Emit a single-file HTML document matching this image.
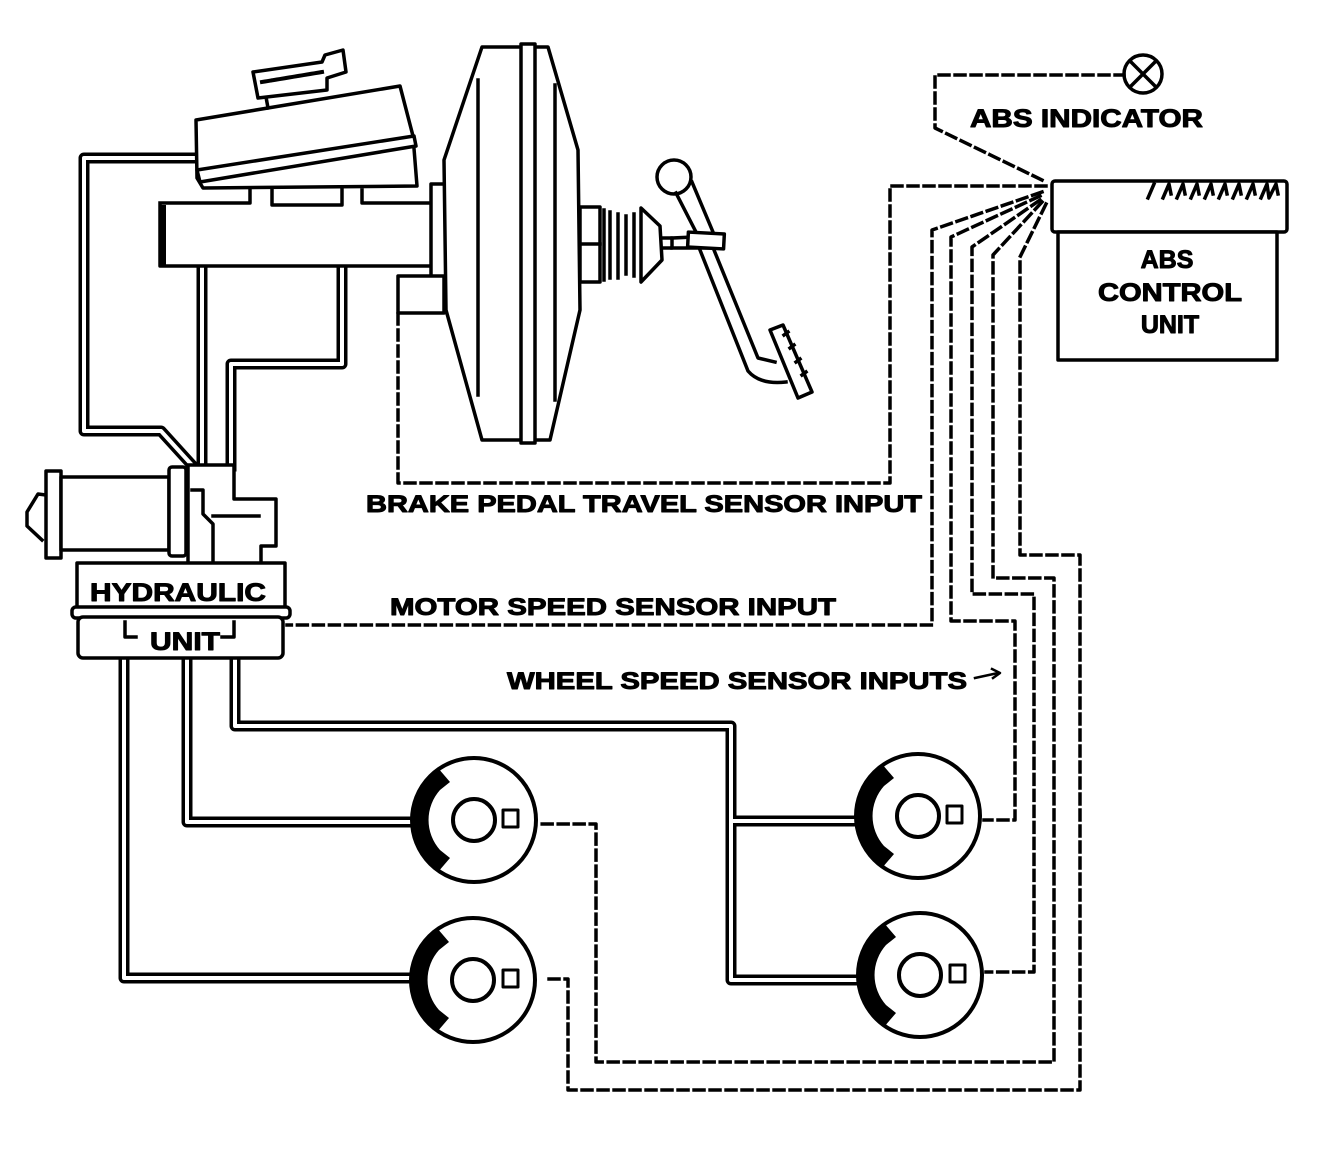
<!DOCTYPE html>
<html><head><meta charset="utf-8"><style>
html,body{margin:0;padding:0;background:#fff;}
svg{display:block;}
text{font-family:"Liberation Sans",sans-serif;font-weight:bold;fill:#000;}
</style></head><body>
<svg width="1328" height="1158" viewBox="0 0 1328 1158" xmlns="http://www.w3.org/2000/svg">
<g fill="none" stroke="#000" stroke-linejoin="round" stroke-linecap="square">
<!-- double-line pipes -->
<g stroke-width="11">
<path d="M197,158 L84,158 L84,431 L161,431 L191,464"/>
<path d="M202,268 L202,466"/>
<path d="M342,268 L342,364 L231,364 L231,466"/>
<path d="M124,658 L124,978 L412,978"/>
<path d="M187,658 L187,822 L412,822"/>
<path d="M235,658 L235,726 L731,726 L731,980 L858,980 M731,821 L855,821"/>
</g>
<g stroke="#fff" stroke-width="4">
<path d="M197,158 L84,158 L84,431 L161,431 L191,464"/>
<path d="M202,268 L202,466"/>
<path d="M342,268 L342,364 L231,364 L231,466"/>
<path d="M124,658 L124,978 L412,978"/>
<path d="M187,658 L187,822 L412,822"/>
<path d="M235,658 L235,726 L731,726 L731,980 L858,980 M731,821 L855,821"/>
</g>

<g stroke-width="3.5">
<!-- master cylinder -->
<rect x="160" y="203" width="272" height="63" fill="#fff" stroke="none"/>
<path d="M160,203 L250,203 L250,190 M272,190 L272,205 L342,205 L342,190 M362,190 L362,203 L432,203 M432,203 L432,266 L160,266 L160,203"/>
<path d="M163,208 L163,264" stroke-width="6"/>
<!-- reservoir -->
<path d="M196,120 L400,86 L413,136 L417,186 L203,188 L197,178 Z" fill="#fff"/>
<path d="M197,170 L414,136 L416,146 L200,182 Z" fill="#fff"/>
<path d="M266,97 L268,108"/>
<path d="M253,72 L322,62 L325,55 L343,50 L346,72 L327,78 L327,90 L258,98 Z" fill="#fff"/>
<path d="M262,82 L322,72" stroke-width="4" stroke-dasharray="3 2"/>
<!-- flange & sensor -->
<rect x="431" y="184" width="15" height="110" fill="#fff"/>
<rect x="398" y="276" width="46" height="37" fill="#fff"/>
<!-- booster -->
<path d="M482,47 L548,47 L578,150 L580,310 L550,440 L482,440 L446,310 L444,160 Z" fill="#fff"/>
<path d="M478,80 L478,395 M555,85 L555,400"/>
<path d="M521,44 L521,443 L535,443 L535,44 Z" fill="#fff"/>
<!-- pushrod & pedal -->
<rect x="580" y="207" width="20" height="75" fill="#fff"/>
<path d="M580,244 L600,244"/>
<path d="M604,210 L604,280 M610,212 L610,278 M618,214 L618,278 M626,216 L626,274 M634,214 L634,276"/>
<path d="M641,208 L660,226 L662,260 L641,282 Z" fill="#fff"/>
<path d="M662,238 L672,238 L672,248 L662,248"/>
<path d="M672,238 L715,236 M672,248 L715,248"/>
<circle cx="674" cy="177" r="17" fill="#fff"/>
<path d="M676,193 L696,232 M692,182 L713,232 M700,250 L748,371 Q760,385 786,382 M714,250 L758,358 L775,362"/>
<rect x="688" y="233" width="36" height="15" fill="#fff" transform="rotate(3 706 240)"/>
<path d="M770,330 L783,325 L812,392 L798,398 Z" fill="#fff"/>
<path d="M784,335 l4,-3 M790,348 l4,-3 M796,362 l4,-3 M802,375 l4,-3"/>
<!-- hydraulic unit -->
<path d="M46,495 L38,494 L27,512 L27,526 L42,540"/>
<rect x="46" y="471" width="15" height="87" fill="#fff"/>
<rect x="61" y="477" width="108" height="73" fill="#fff"/>
<rect x="169" y="467" width="17" height="89" rx="3" fill="#fff"/>
<path d="M188,465 L234,465 L234,499 L276,499 L276,546 L261,546 L261,564 L188,564 Z" fill="#fff"/>
<path d="M192,490 L203,490 L203,514 L213,524 L213,562 M213,516 L259,516"/>
<rect x="77" y="563" width="208" height="46" fill="#fff"/>
<rect x="72" y="607" width="218" height="11" rx="4" fill="#fff"/>
<rect x="78" y="617" width="205" height="41" rx="5" fill="#fff"/>
<path d="M125,622 L125,637 L136,637 M234,622 L234,637 L222,637"/>
<!-- ABS control unit -->
<rect x="1052" y="181" width="235" height="51" rx="3" fill="#fff"/>
<rect x="1058" y="232" width="219" height="128" fill="#fff"/>
<!-- lamp -->
<circle cx="1143" cy="74" r="19" fill="#fff"/>
<path d="M1130,61 L1156,87 M1156,61 L1130,87"/>
</g>
<!-- teeth -->
<g stroke="#000" stroke-width="3.5">
<path d="M1148,198 L1154,184 M1163,198 L1169,184 L1171,194 M1177,198 L1183,184 L1185,194 M1191,198 L1197,184 L1199,194 M1205,198 L1211,184 L1213,194 M1219,198 L1225,184 L1227,194 M1233,198 L1239,184 L1241,194 M1247,198 L1253,184 L1255,194 M1261,198 L1267,184 L1269,198 L1276,184 L1278,194"/>
</g>

<!-- wheels -->
<g stroke="#000" stroke-width="4" fill="#fff">
<g transform="translate(474,820)">
<circle r="62"/><circle r="21"/><rect x="29" y="-10" width="15" height="17" stroke-width="3"/>
<path d="M-36,-52 A63,63 0 0 0 -36,52 L-24,38 L-34,30 A45,45 0 0 1 -34,-30 L-24,-38 Z" fill="#000" stroke="none"/>
</g>
<g transform="translate(473,980)">
<circle r="62"/><circle r="21"/><rect x="30" y="-10" width="15" height="17" stroke-width="3"/>
<path d="M-36,-52 A63,63 0 0 0 -36,52 L-24,38 L-34,30 A45,45 0 0 1 -34,-30 L-24,-38 Z" fill="#000" stroke="none"/>
</g>
<g transform="translate(918,816)">
<circle r="62"/><circle r="21"/><rect x="29" y="-10" width="15" height="17" stroke-width="3"/>
<path d="M-36,-52 A63,63 0 0 0 -36,52 L-24,38 L-34,30 A45,45 0 0 1 -34,-30 L-24,-38 Z" fill="#000" stroke="none"/>
</g>
<g transform="translate(920,975)">
<circle r="62"/><circle r="21"/><rect x="30" y="-10" width="15" height="17" stroke-width="3"/>
<path d="M-36,-52 A63,63 0 0 0 -36,52 L-24,38 L-34,30 A45,45 0 0 1 -34,-30 L-24,-38 Z" fill="#000" stroke="none"/>
</g>
</g>

<!-- dashed wires -->
<g fill="none" stroke="#000" stroke-width="3.5" stroke-dasharray="10 6">
<path d="M1042,180 L935,128 L935,75 L1124,75"/>
<path d="M1046,186 L890,186 L890,483 L398,483 L398,314"/>
<path d="M1042,192 L932,230 L932,625 L287,625"/>
<path d="M1040,196 L951,237 L951,621 L1015,621 L1015,820 L984,820"/>
<path d="M1040,200 L972,247 L972,594 L1034,594 L1034,972 L986,972"/>
<path d="M1042,202 L993,255 L993,578 L1054,578 L1054,1062 L596,1062 L596,824 L538,824"/>
<path d="M1046,204 L1020,257 L1020,555 L1080,555 L1080,1090 L568,1090 L568,979 L545,979"/>
</g>
<path d="M975,678 L998,673" stroke="#000" stroke-width="2.5"/>
<path d="M992,669 L1000,673 L993,678" fill="none" stroke="#000" stroke-width="2.5"/>

<!-- labels -->
<text x="970" y="127" font-size="25" textLength="233" lengthAdjust="spacingAndGlyphs">ABS INDICATOR</text>
<text x="1167" y="268" font-size="25" text-anchor="middle">ABS</text>
<text x="1170" y="301" font-size="25" text-anchor="middle" textLength="144" lengthAdjust="spacingAndGlyphs">CONTROL</text>
<text x="1170" y="333" font-size="25" text-anchor="middle">UNIT</text>
<text x="366" y="512" font-size="24" textLength="556" lengthAdjust="spacingAndGlyphs">BRAKE PEDAL TRAVEL SENSOR INPUT</text>
<text x="390" y="615" font-size="24" textLength="446" lengthAdjust="spacingAndGlyphs">MOTOR SPEED SENSOR INPUT</text>
<text x="507" y="689" font-size="24" textLength="460" lengthAdjust="spacingAndGlyphs">WHEEL SPEED SENSOR INPUTS</text>
<text x="90" y="601" font-size="25" textLength="176" lengthAdjust="spacingAndGlyphs">HYDRAULIC</text>
<text x="150" y="650" font-size="25" textLength="70" lengthAdjust="spacingAndGlyphs">UNIT</text>
</svg>
</body></html>
